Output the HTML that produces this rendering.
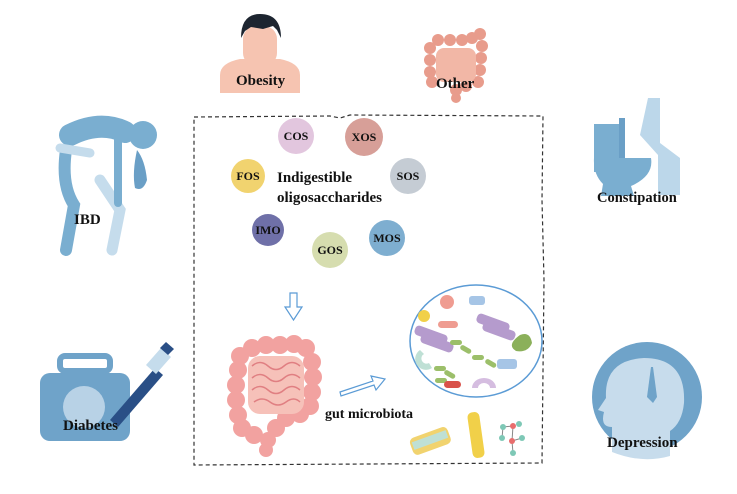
<!DOCTYPE html>
<html><head><meta charset="utf-8"><style>
html,body{margin:0;padding:0;background:#fff}
svg{display:block}
text{font-family:"Liberation Serif",serif;font-weight:bold;fill:#111}
</style></head><body>
<svg width="737" height="494" viewBox="0 0 737 494">
<!-- dashed box -->
<path d="M194,117 L330,116 L340,118 L350,115 L543,116 L542,200 L544,280 L542,463 L194,465 Z" fill="none" stroke="#333" stroke-width="1.2" stroke-dasharray="4,3"/>

<g font-size="12" text-anchor="middle">
<circle cx="296" cy="136" r="18" fill="#e2c6de"/><text x="296" y="140">COS</text>
<circle cx="364" cy="137" r="19" fill="#d79f98"/><text x="364" y="141">XOS</text>
<circle cx="248" cy="176" r="17" fill="#f1d36f"/><text x="248" y="180">FOS</text>
<circle cx="408" cy="176" r="18" fill="#c5ccd4"/><text x="408" y="180">SOS</text>
<circle cx="268" cy="230" r="16" fill="#6f70a8"/><text x="268" y="234">IMO</text>
<circle cx="330" cy="250" r="18" fill="#d6ddaf"/><text x="330" y="254">GOS</text>
<circle cx="387" cy="238" r="18" fill="#7eaed0"/><text x="387" y="242">MOS</text>
</g>
<text x="277" y="182" font-size="15">Indigestible</text>
<text x="277" y="202" font-size="15">oligosaccharides</text>

<path d="M290,293 h7 v14 h5 l-8.5,13 l-8.5,-13 h5 z" fill="#fff" stroke="#5b9bd5" stroke-width="1.2"/>
<path d="M340,392 l33,-11 l-2,-5 l14,3 l-9,11 l-2,-5 l-33,11 z" fill="#fff" stroke="#5b9bd5" stroke-width="1.2"/>

<!-- intestine (bumpy) -->
<g fill="#f2a2a0">
<circle cx="238" cy="370" r="9"/><circle cx="236" cy="385" r="9"/><circle cx="236" cy="400" r="9"/><circle cx="238" cy="415" r="9"/><circle cx="242" cy="428" r="9"/>
<circle cx="240" cy="356" r="9"/><circle cx="252" cy="348" r="9"/><circle cx="266" cy="345" r="9"/><circle cx="280" cy="345" r="9"/><circle cx="294" cy="344" r="9"/><circle cx="306" cy="348" r="9"/>
<circle cx="312" cy="362" r="9"/><circle cx="313" cy="377" r="9"/><circle cx="312" cy="392" r="9"/><circle cx="310" cy="406" r="9"/><circle cx="300" cy="414" r="9"/><circle cx="286" cy="418" r="9"/>
<circle cx="276" cy="428" r="9"/><circle cx="268" cy="440" r="8"/><circle cx="266" cy="450" r="7"/><circle cx="254" cy="435" r="9"/>
</g>
<rect x="248" y="356" width="56" height="58" rx="12" fill="#f6c1b9"/>
<g fill="none" stroke="#e07f82" stroke-width="1.5">
<path d="M252,366 q8,-7 16,0 t16,0 t16,0 M252,378 q8,-7 16,0 t16,0 t16,0 M252,390 q8,-7 16,0 t16,0 t16,0 M254,402 q8,-6 16,0 t16,0 t14,0"/>
</g>
<text x="325" y="418" font-size="14">gut microbiota</text>

<!-- microbiota -->
<ellipse cx="476" cy="341" rx="66" ry="56" fill="#fff" stroke="#5b9bd5" stroke-width="1.5"/>
<circle cx="447" cy="302" r="7" fill="#ef9c91"/>
<rect x="469" y="296" width="16" height="9" rx="3" fill="#a6c5e6"/>
<circle cx="424" cy="316" r="6" fill="#f1d049"/>
<rect x="438" y="321" width="20" height="7" rx="3.5" fill="#ef9c91"/>
<g fill="#b59bcd"><rect x="414" y="330" width="34" height="10" rx="4" transform="rotate(20 431 335)"/><rect x="420" y="338" width="34" height="10" rx="4" transform="rotate(20 437 343)"/>
<rect x="476" y="318" width="34" height="10" rx="4" transform="rotate(20 493 323)"/><rect x="482" y="326" width="34" height="10" rx="4" transform="rotate(20 499 331)"/></g>
<g fill="#9cbf6a"><rect x="450" y="340" width="12" height="5" rx="2.5"/><rect x="460" y="347" width="12" height="5" rx="2.5" transform="rotate(30 466 349)"/><rect x="472" y="355" width="12" height="5" rx="2.5"/><rect x="485" y="361" width="12" height="5" rx="2.5" transform="rotate(30 491 363)"/><rect x="434" y="366" width="12" height="5" rx="2.5"/><rect x="444" y="372" width="12" height="5" rx="2.5" transform="rotate(30 450 374)"/><rect x="435" y="378" width="12" height="5" rx="2.5"/></g>
<path d="M520,335 q10,-4 12,8 q-4,10 -16,8 q-10,-6 4,-16z" fill="#8bb05a"/>
<rect x="497" y="359" width="20" height="10" rx="3" fill="#a6c5e6"/>
<path d="M420,350 a10,10 0 1 0 12,18 l-3,-5 a5,5 0 1 1 -5,-9 z" fill="#bfe0d5"/>
<rect x="444" y="381" width="17" height="7" rx="3.5" fill="#d9524b"/>
<path d="M472,388 a12,10 0 0 1 24,0 h-6 a6,5 0 0 0 -12,0 z" fill="#d5bde0"/>
<g transform="rotate(-20 430 440)"><rect x="410" y="432" width="40" height="18" rx="5" fill="#f1d36f"/><rect x="412" y="436" width="36" height="8" fill="#bfe0d5"/></g>
<rect x="470" y="412" width="12" height="46" rx="5" fill="#f1d049" transform="rotate(-8 476 435)"/>
<g stroke="#888" stroke-width="1"><line x1="503" y1="427" x2="513" y2="426"/><line x1="503" y1="427" x2="502" y2="438"/><line x1="513" y1="426" x2="512" y2="441"/><line x1="512" y1="441" x2="522" y2="438"/><line x1="512" y1="441" x2="513" y2="453"/></g>
<circle cx="503" cy="427" r="3" fill="#7ec8b6"/><circle cx="513" cy="426" r="3" fill="#e86d6d"/><circle cx="502" cy="438" r="3" fill="#7ec8b6"/><circle cx="512" cy="441" r="3" fill="#e86d6d"/><circle cx="522" cy="438" r="3" fill="#7ec8b6"/><circle cx="513" cy="453" r="3" fill="#7ec8b6"/><circle cx="519" cy="424" r="3" fill="#7ec8b6"/>

<!-- Obesity -->
<path d="M220,93 v-18 q0,-12 20,-16 h40 q20,4 20,16 v18 z" fill="#f6c4b1"/>
<rect x="243" y="26" width="34" height="40" rx="13" fill="#f6c4b1"/>
<path d="M241,38 q0,-24 19,-24 q21,0 21,24 l-4,-8 l-4,-4 l-10,3 l-12,-2 l-6,4 z" fill="#1d2530"/>
<text x="236" y="85" font-size="15">Obesity</text>

<!-- Other intestine -->
<g fill="#e89c8c">
<circle cx="430" cy="48" r="6"/><circle cx="430" cy="60" r="6"/><circle cx="430" cy="72" r="6"/><circle cx="432" cy="82" r="6"/>
<circle cx="438" cy="40" r="6"/><circle cx="450" cy="40" r="6"/><circle cx="462" cy="40" r="6"/><circle cx="472" cy="38" r="6"/><circle cx="480" cy="34" r="6"/>
<circle cx="482" cy="46" r="6"/><circle cx="481" cy="58" r="6"/><circle cx="480" cy="70" r="6"/><circle cx="478" cy="82" r="6"/><circle cx="466" cy="86" r="6"/><circle cx="456" cy="90" r="6"/><circle cx="456" cy="98" r="5"/>
</g>
<rect x="436" y="48" width="40" height="34" rx="8" fill="#f2b7a6"/>
<text x="436" y="88" font-size="15">Other</text>

<!-- Constipation -->
<path d="M648,98 h12 v45 l20,15 v37 h-22 v-40 l-18,-20 z" fill="#bcd7ea"/>
<path d="M594,124 h27 v48 h-27 z" fill="#7aaed0"/>
<path d="M619,118 h6 v40 h-6z" fill="#6a9fc6"/>
<path d="M594,158 h57 q3,18 -20,28 l3,10 h-33 l2,-12 q-10,-10 -9,-26z" fill="#7aaed0"/>
<text x="597" y="202" font-size="14.5">Constipation</text>

<!-- IBD -->
<g stroke-linecap="round" fill="none">
<path d="M70,135 q30,-15 55,-3" stroke="#7aaed0" stroke-width="22"/>
<path d="M66,150 q-5,35 8,55 l-8,45" stroke="#7aaed0" stroke-width="12"/>
<path d="M100,180 l20,30 l-8,40" stroke="#c5dcec" stroke-width="11"/>
<path d="M60,148 l30,5" stroke="#c5dcec" stroke-width="9"/>
<path d="M118,138 v65" stroke="#7aaed0" stroke-width="8"/>
</g>
<circle cx="143" cy="135" r="14" fill="#7aaed0"/>
<path d="M137,150 q8,10 10,30 q-4,12 -12,8 q-3,-15 2,-38z" fill="#6a9fc6"/>
<text x="74" y="224" font-size="15">IBD</text>

<!-- Diabetes -->
<rect x="40" y="373" width="90" height="68" rx="10" fill="#6fa3c9"/>
<rect x="60" y="356" width="50" height="15" rx="5" fill="none" stroke="#6fa3c9" stroke-width="6"/>
<circle cx="84" cy="407" r="21" fill="#b8d2e6"/>
<path d="M110,420 l45,-52 l8,7 l-45,52 z" fill="#2a4f86"/>
<path d="M146,365 l15,-17 l10,9 l-15,17 z" fill="#c5dcec"/>
<path d="M160,348 l6,-6 l8,7 l-6,6 z" fill="#2a4f86"/>
<text x="63" y="430" font-size="15">Diabetes</text>

<!-- Depression -->
<circle cx="647" cy="397" r="55" fill="#6fa3c9"/>
<path d="M612,452 v-25 q-12,0 -8,-15 l-6,-2 l8,-12 q-2,-38 38,-40 q42,0 40,45 q-2,20 -14,28 v25 q-28,8 -58,-4z" fill="#c7dcec"/>
<path d="M651,367 l-4,30 l6,6 l4,-6 l-4,-30z" fill="#6fa3c9"/>
<text x="607" y="447" font-size="15">Depression</text>
</svg>
</body></html>
